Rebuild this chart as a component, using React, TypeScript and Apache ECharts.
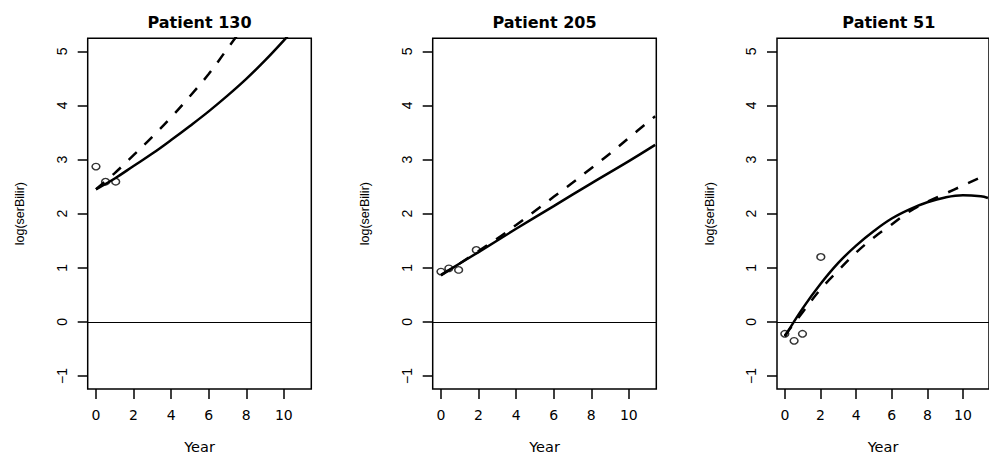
import React, { useEffect, useRef } from "react";
import * as echarts from "echarts";

// ---- Data ----
const panelTitles = ["Patient 130", "Patient 205", "Patient 51"];
const xTicks = [0, 2, 4, 6, 8, 10];
const yTicks = [-1, 0, 1, 2, 3, 4, 5];

// Patient 130
const p130ObsX = [0, 0.51, 1.05];
const p130ObsY = [2.87, 2.59, 2.59];
const p130SolidX = [0, 1, 2, 3, 4, 5, 6, 7, 8, 9, 10, 10.5];
const p130SolidY = [2.45, 2.65, 2.88, 3.11, 3.36, 3.62, 3.89, 4.18, 4.49, 4.83, 5.2, 5.4];
const p130DashX = [0, 1, 2, 3, 4, 5, 6, 7, 8];
const p130DashY = [2.45, 2.75, 3.08, 3.42, 3.78, 4.17, 4.58, 5.05, 5.52];

// Patient 205
const p205ObsX = [0, 0.42, 0.94, 1.88];
const p205ObsY = [0.93, 0.99, 0.96, 1.33];
const p205SolidX = [0, 2, 4, 6, 8, 10, 11.4];
const p205SolidY = [0.87, 1.29, 1.72, 2.14, 2.56, 2.97, 3.27];
const p205DashX = [0, 1, 2, 3, 4, 5, 6, 7, 8, 9, 10, 11.4];
const p205DashY = [0.86, 1.08, 1.31, 1.54, 1.79, 2.05, 2.31, 2.57, 2.84, 3.11, 3.4, 3.8];

// Patient 51
const p51ObsX = [0, 0.52, 0.99, 2.02];
const p51ObsY = [-0.22, -0.35, -0.22, 1.2];
const p51SolidX = [0, 1, 2, 3, 4, 5, 6, 7, 8, 9, 10, 11, 11.4];
const p51SolidY = [-0.27, 0.25, 0.7, 1.09, 1.41, 1.68, 1.91, 2.08, 2.21, 2.3, 2.34, 2.32, 2.29];
const p51DashX = [0, 1, 2, 3, 4, 5, 6, 7, 8, 9, 10, 11, 11.4];
const p51DashY = [-0.25, 0.18, 0.6, 0.95, 1.28, 1.56, 1.8, 2.04, 2.22, 2.37, 2.52, 2.67, 2.73];

const panels = [
  { obsX: p130ObsX, obsY: p130ObsY, sX: p130SolidX, sY: p130SolidY, dX: p130DashX, dY: p130DashY },
  { obsX: p205ObsX, obsY: p205ObsY, sX: p205SolidX, sY: p205SolidY, dX: p205DashX, dY: p205DashY },
  { obsX: p51ObsX, obsY: p51ObsY, sX: p51SolidX, sY: p51SolidY, dX: p51DashX, dY: p51DashY },
];

const zip = (xs: number[], ys: number[]) => xs.map((x, i) => [x, ys[i]]);

// ---- Layout ----
const gridLefts = [87.7, 432.7, 777];
const gridWidth = 223.6;
const gridTop = 38.3;
const gridHeight = 356;

const FONT_H = "DejaVu Sans";
const FONT_V = "Liberation Sans";

export default function App() {
  const ref = useRef<HTMLDivElement>(null);

  useEffect(() => {
    if (!ref.current) return;
    const chart = echarts.init(ref.current, undefined, { renderer: "svg" });

    const grid = gridLefts.map((l) => ({
      left: l,
      top: gridTop,
      width: gridWidth,
      height: gridHeight,
      show: true,
      borderColor: "#000",
      borderWidth: 1.5,
      backgroundColor: "transparent",
      containLabel: false,
    }));

    const xAxis = gridLefts.map((_, i) => ({
      type: "value",
      gridIndex: i,
      position: "bottom",
      min: -0.44,
      max: 11.46,
      name: "Year",
      nameLocation: "middle",
      nameGap: 50,
      nameTextStyle: { fontFamily: FONT_H, fontSize: 14.5, color: "#000" },
      axisLine: { show: false, onZero: false },
      splitLine: { show: false },
      axisTick: {
        show: true,
        length: 10,
        customValues: xTicks,
        lineStyle: { color: "#000", width: 1.5 },
      },
      axisLabel: {
        customValues: xTicks,
        margin: 19,
        fontFamily: FONT_H,
        fontSize: 14,
        color: "#000",
      },
    }));

    const yAxis = gridLefts.map((_, i) => ({
      type: "value",
      gridIndex: i,
      position: "left",
      min: -1.24,
      max: 5.24,
      name: "log(serBilir)",
      nameLocation: "middle",
      nameRotate: 90,
      nameGap: 61,
      nameTextStyle: { fontFamily: FONT_V, fontSize: 12.5, color: "#000" },
      axisLine: { show: false, onZero: false },
      splitLine: { show: false },
      axisTick: {
        show: true,
        length: 10,
        customValues: yTicks,
        lineStyle: { color: "#000", width: 1.5 },
      },
      axisLabel: {
        customValues: yTicks,
        rotate: 90,
        margin: 19,
        fontFamily: FONT_V,
        fontSize: 14,
        color: "#000",
        formatter: (v: number) => (v < 0 ? "\u2212" + Math.abs(v) : String(v)),
      },
    }));

    const series: any[] = [];
    panels.forEach((p, i) => {
      series.push({
        type: "scatter",
        xAxisIndex: i,
        yAxisIndex: i,
        data: zip(p.obsX, p.obsY),
        symbol: "circle",
        symbolSize: [7.8, 6.5],
        itemStyle: { color: "rgba(0,0,0,0)", borderColor: "#000", borderWidth: 1.4 },
        z: 2,
      });
      series.push({
        type: "line",
        xAxisIndex: i,
        yAxisIndex: i,
        data: zip(p.sX, p.sY),
        smooth: 0.4,
        showSymbol: false,
        lineStyle: { color: "#000", width: 2.5, type: "solid" },
        z: 3,
        markLine: {
          silent: true,
          symbol: ["none", "none"],
          label: { show: false },
          lineStyle: { color: "#000", width: 1, type: "solid" },
          data: [{ yAxis: 0 }],
        },
      });
      series.push({
        type: "line",
        xAxisIndex: i,
        yAxisIndex: i,
        data: zip(p.dX, p.dY),
        smooth: 0.4,
        showSymbol: false,
        lineStyle: { color: "#000", width: 2.5, type: [11, 11] },
        z: 3,
      });
    });

    const graphic = panelTitles.map((t, i) => ({
      type: "text",
      x: gridLefts[i] + gridWidth / 2,
      y: 22.5,
      style: {
        text: t,
        textAlign: "center",
        textVerticalAlign: "middle",
        fontFamily: FONT_H,
        fontWeight: "bold",
        fontSize: 16,
        fill: "#000",
      },
    }));

    chart.setOption({
      animation: false,
      backgroundColor: "#fff",
      grid,
      xAxis,
      yAxis,
      series,
      graphic,
    });

    return () => chart.dispose();
  }, []);

  return (
    <div
      ref={ref}
      style={{ position: "absolute", left: 0, top: 0, width: 989, height: 459 }}
    />
  );
}
